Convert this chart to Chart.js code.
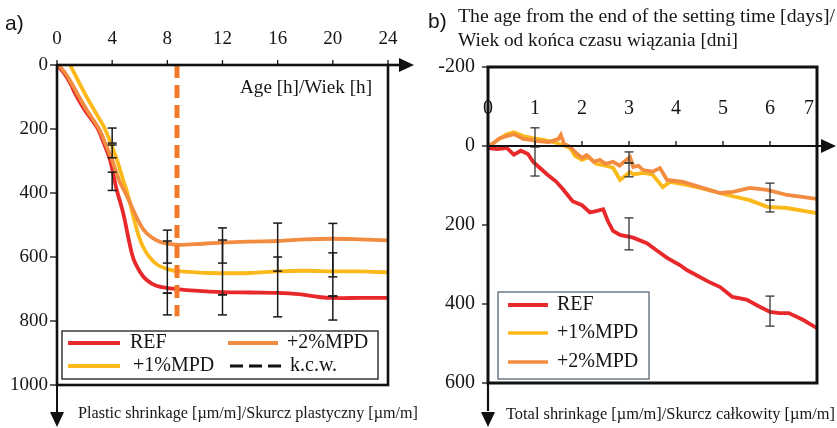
<!DOCTYPE html>
<html><head><meta charset="utf-8">
<script src="https://cdn.jsdelivr.net/npm/chart.js@4.4.0/dist/chart.umd.min.js"></script>
<style>
html,body{margin:0;padding:0;background:#fff;width:837px;height:428px;overflow:hidden}
#wrapA{position:absolute;left:0;top:0;width:420px;height:428px}
#wrapB{position:absolute;left:420px;top:0;width:417px;height:428px}
canvas{display:block}
</style></head><body>
<div id="wrapA"><canvas id="cA" width="420" height="428"></canvas></div>
<div id="wrapB"><canvas id="cB" width="417" height="428"></canvas></div>
<script>
// ---------- Panel a) plastic shrinkage ----------
const hourTicks = [0, 4, 8, 12, 16, 20, 24];
const plasticTicks = [0, 200, 400, 600, 800, 1000];
const refHours = [0, 0.5, 1, 1.3, 2, 2.9, 3.4, 3.85, 4.3, 4.8, 5.5, 6, 6.5, 7.2, 8, 10, 12, 14, 16, 17.5, 19, 20, 22, 24];
const refPlastic = [0, 25, 60, 88, 140, 195, 245, 297, 385, 463, 600, 645, 672, 690, 697, 705, 710, 711, 712, 716, 725, 728, 728, 728];
const mpd2Hours = [0.1, 0.6, 1.1, 1.45, 2.15, 3.05, 3.55, 4.0, 4.5, 5.1, 5.7, 6.3, 6.9, 7.5, 8, 9, 10, 12, 14, 16, 18, 20, 22, 24];
const mpd2Plastic = [0, 25, 60, 88, 140, 200, 250, 297, 360, 412, 470, 516, 540, 553, 558, 562, 560, 555, 552, 550, 545, 543, 545, 548];
const mpd1Hours = [0.95, 2, 2.75, 3.48, 4.35, 4.8, 5.1, 5.8, 6.2, 6.7, 7.3, 8.2, 9, 11, 14, 16, 18, 20, 22, 24];
const mpd1Plastic = [0, 88, 145, 200, 297, 360, 400, 516, 565, 600, 625, 640, 645, 650, 650, 645, 643, 645, 645, 648];
const kcwHours = [8.7, 8.7];
const kcwPlastic = [0, 785];
const errAHours = [4, 4, 4, 8, 8, 8, 12, 12, 12, 16, 16, 20, 20, 20];
const errALow = [197, 250, 335, 516, 550, 713, 509, 547, 718, 494, 600, 495, 587, 722];
const errAHigh = [244, 290, 392, 619, 713, 781, 619, 718, 781, 644, 787, 662, 722, 797];

// ---------- Panel b) total shrinkage ----------
const dayTicks = [0, 1, 2, 3, 4, 5, 6, 7];
const totalTicks = [-200, 0, 200, 400, 600];
const refDays = [0, 0.2, 0.4, 0.55, 0.7, 0.85, 0.96, 1.1, 1.26, 1.45, 1.6, 1.8, 2.0, 2.17, 2.3, 2.45, 2.55, 2.66, 2.81, 3.09, 3.38, 3.6, 3.81, 4.09, 4.23, 4.7, 4.94, 5.2, 5.5, 5.75, 6.0, 6.2, 6.4, 6.7, 7];
const refTotal = [5, 8, 5, 22, 12, 20, 40, 55, 72, 90, 110, 140, 150, 168, 165, 160, 190, 215, 225, 232, 246, 265, 283, 302, 314, 344, 357, 382, 389, 405, 420, 423, 423, 440, 461];
const mpd1Days = [0, 0.2, 0.4, 0.55, 0.75, 0.95, 1.2, 1.4, 1.6, 1.75, 1.85, 2.0, 2.15, 2.3, 2.5, 2.66, 2.81, 3.02, 3.1, 3.3, 3.5, 3.72, 3.87, 4.2, 4.51, 5.09, 5.57, 5.94, 6.36, 7];
const mpd1Total = [2, -15, -30, -35, -25, -20, -15, -10, -2, 5, 25, 35, 28, 45, 50, 55, 86, 66, 72, 68, 72, 104, 91, 98, 106, 124, 137, 154, 157, 170];
const mpd2Days = [0, 0.15, 0.25, 0.4, 0.55, 0.75, 0.95, 1.1, 1.3, 1.5, 1.55, 1.62, 1.75, 1.85, 2.0, 2.1, 2.25, 2.38, 2.5, 2.66, 2.8, 3.02, 3.09, 3.2, 3.3, 3.5, 3.66, 3.81, 4.15, 4.51, 4.94, 5.21, 5.57, 5.94, 6.36, 7];
const mpd2Total = [2, -10, -20, -25, -30, -18, -15, -12, -10, -18, -28, -5, 2, 15, 30, 23, 40, 35, 45, 40, 50, 28, 53, 50, 61, 65, 56, 86, 91, 104, 119, 116, 106, 111, 124, 134];
const errBDays = [1, 1, 3, 3, 3, 6, 6, 6];
const errBLow = [-46, 2, 15, 43, 182, 94, 137, 380];
const errBHigh = [2, 76, 43, 78, 263, 137, 167, 456];

const seriesNames = ['REF', '+1%MPD', '+2%MPD', 'k.c.w.'];

const RED = '#E8282A', ORANGE = '#F28C40', YELLOW = '#FCB91A', KCW = '#F27A2A';
const SERIF = '"Liberation Serif", "Times New Roman", serif';
const SANS = '"Liberation Sans", Arial, sans-serif';

const zip = (xs, ys) => xs.map((x, i) => ({x: x, y: ys[i]}));

function txt(ctx, s, x, y, size, align, targetW, fam) {
  ctx.save();
  ctx.font = size + 'px ' + (fam || SERIF);
  ctx.fillStyle = '#151515';
  ctx.textBaseline = 'middle';
  ctx.textAlign = align || 'left';
  const w = ctx.measureText(s).width;
  const sx = targetW ? targetW / w : 1;
  ctx.translate(x, y);
  ctx.scale(sx, 1);
  ctx.fillText(s, 0, 0);
  ctx.restore();
}
function arrow(ctx, x, y, dir) {
  ctx.save();
  ctx.fillStyle = '#111';
  ctx.beginPath();
  if (dir === 'right') { ctx.moveTo(x, y); ctx.lineTo(x - 15, y - 7); ctx.lineTo(x - 15, y + 7); }
  else { ctx.moveTo(x, y); ctx.lineTo(x - 7, y - 15); ctx.lineTo(x + 7, y - 15); }
  ctx.closePath(); ctx.fill(); ctx.restore();
}
function line(ctx, x1, y1, x2, y2, w, c, dash) {
  ctx.save(); ctx.strokeStyle = c || '#111'; ctx.lineWidth = w; ctx.setLineDash(dash || []);
  ctx.beginPath(); ctx.moveTo(x1, y1); ctx.lineTo(x2, y2); ctx.stroke(); ctx.restore();
}
function errBars(ctx, xs, ys, X, lo, hi, color, w) {
  for (let i = 0; i < X.length; i++) {
    const px = xs.getPixelForValue(X[i]);
    const a = ys.getPixelForValue(lo[i]), b = ys.getPixelForValue(hi[i]);
    line(ctx, px, a, px, b, w, color);
    line(ctx, px - 4.5, a, px + 4.5, a, w, color);
    line(ctx, px - 4.5, b, px + 4.5, b, w, color);
  }
}

const panelA = {
  id: 'panelA',
  afterDatasetsDraw(chart) {
    const ctx = chart.ctx, xs = chart.scales.x, ys = chart.scales.y;
    const L = xs.getPixelForValue(0), R = xs.getPixelForValue(24);
    const T = ys.getPixelForValue(0), B = ys.getPixelForValue(1000);
    errBars(ctx, xs, ys, errAHours, errALow, errAHigh, '#1a1a1a', 1.5);
    ctx.save(); ctx.strokeStyle = '#111'; ctx.lineWidth = 2.6; ctx.strokeRect(L, T, R - L, B - T); ctx.restore();
    line(ctx, R, T, R + 12, T, 2.6);
    arrow(ctx, R + 26, T, 'right');
    line(ctx, L, B, L, B + 28, 2);
    arrow(ctx, L, B + 42, 'down');
    hourTicks.forEach(h => {
      const px = xs.getPixelForValue(h);
      line(ctx, px, T, px, T - 5, 1.3);
      txt(ctx, String(h), px, T - 26, 19, 'center');
    });
    plasticTicks.forEach(v => {
      const py = ys.getPixelForValue(v);
      line(ctx, L - 7, py, L, py, 1.3);
      txt(ctx, String(v), L - 9, py, 19, 'right');
    });
    txt(ctx, 'Age [h]/Wiek [h]', 240, 88, 19, 'left', 132);
    txt(ctx, 'a)', 5, 24, 21, 'left', null, SANS);
    txt(ctx, 'Plastic shrinkage [\u00b5m/m]/Skurcz plastyczny [\u00b5m/m]', 78, 414, 16, 'left', 340);
    // legend
    ctx.save(); ctx.fillStyle = '#fff'; ctx.fillRect(62, 331, 316, 48);
    ctx.strokeStyle = '#2a2a2a'; ctx.lineWidth = 1.4; ctx.strokeRect(62, 331, 316, 48); ctx.restore();
    line(ctx, 68, 343, 120, 343, 4, RED);
    txt(ctx, seriesNames[0], 130, 343, 20, 'left');
    line(ctx, 228, 343, 278, 343, 4, ORANGE);
    txt(ctx, seriesNames[2], 287, 343, 20, 'left');
    line(ctx, 68, 366, 120, 366, 4, YELLOW);
    txt(ctx, seriesNames[1], 133, 366, 20, 'left');
    line(ctx, 230, 366, 281, 366, 3, '#111', [13, 6]);
    txt(ctx, seriesNames[3], 290, 366, 20, 'left');
  }
};

const panelB = {
  id: 'panelB',
  afterDatasetsDraw(chart) {
    const ctx = chart.ctx, xs = chart.scales.x, ys = chart.scales.y;
    const L = xs.getPixelForValue(0), R = xs.getPixelForValue(7);
    const T = ys.getPixelForValue(-200), B = ys.getPixelForValue(600);
    const Y0 = ys.getPixelForValue(0);
    errBars(ctx, xs, ys, errBDays, errBLow, errBHigh, '#333', 1.3);
    ctx.save(); ctx.strokeStyle = '#111'; ctx.lineWidth = 3; ctx.strokeRect(L, T, R - L, B - T); ctx.restore();
    line(ctx, L, Y0, R + 8, Y0, 2.2);
    arrow(ctx, R + 19, Y0, 'right');
    line(ctx, L, B, L, B + 28, 2.2);
    arrow(ctx, L, B + 44, 'down');
    dayTicks.forEach(d => {
      const px = xs.getPixelForValue(d);
      if (d > 0 && d < 7) line(ctx, px, Y0, px, Y0 - 5, 1.3);
      txt(ctx, String(d), d === 7 ? px - 8 : px, 109, 20, 'center');
    });
    totalTicks.forEach(v => {
      const py = ys.getPixelForValue(v);
      line(ctx, L - 6, py, L, py, 1.3);
      txt(ctx, String(v), L - 13, py, 20, 'right');
    });
    txt(ctx, 'b)', 8, 22, 21, 'left', null, SANS);
    txt(ctx, 'The age from the end of the setting time [days]/', 38, 17, 19, 'left', 377);
    txt(ctx, 'Wiek od ko\u0144ca czasu wi\u0105zania [dni]', 38, 41, 19, 'left', 280);
    txt(ctx, 'Total shrinkage [\u00b5m/m]/Skurcz ca\u0142kowity [\u00b5m/m]', 86, 415, 16, 'left', 329);
    // legend
    ctx.save(); ctx.fillStyle = '#fff'; ctx.fillRect(78, 292, 151, 87);
    ctx.strokeStyle = '#4a5866'; ctx.lineWidth = 1.2; ctx.strokeRect(78, 292, 151, 87); ctx.restore();
    line(ctx, 88, 305, 128, 305, 4, RED);
    txt(ctx, seriesNames[0], 137, 305, 20, 'left');
    line(ctx, 88, 333, 128, 333, 3.5, YELLOW);
    txt(ctx, seriesNames[1], 137, 333, 20, 'left');
    line(ctx, 88, 362, 128, 362, 3.5, ORANGE);
    txt(ctx, seriesNames[2], 137, 362, 20, 'left');
  }
};

const lineDs = (label, data, color, w, tension) => ({
  label: label, data: data, borderColor: color, backgroundColor: color,
  borderWidth: w, pointRadius: 0, tension: tension, fill: false
});

new Chart(document.getElementById('cA'), {
  type: 'line',
  data: { datasets: [
    Object.assign(lineDs(seriesNames[3], zip(kcwHours, kcwPlastic), KCW, 5, 0), { borderDash: [13, 7] }),
    lineDs(seriesNames[2], zip(mpd2Hours, mpd2Plastic), ORANGE, 3.8, 0.35),
    lineDs(seriesNames[0], zip(refHours, refPlastic), RED, 3.8, 0.35),
    lineDs(seriesNames[1], zip(mpd1Hours, mpd1Plastic), YELLOW, 3.8, 0.35)
  ]},
  options: {
    responsive: false, devicePixelRatio: 1, animation: false,
    layout: { padding: { left: 57, right: 32, top: 65, bottom: 43 } },
    scales: {
      x: { type: 'linear', min: 0, max: 24, display: false },
      y: { type: 'linear', min: 0, max: 1000, reverse: true, display: false }
    },
    plugins: { legend: { display: false }, tooltip: { enabled: false } }
  },
  plugins: [panelA]
});

new Chart(document.getElementById('cB'), {
  type: 'line',
  data: { datasets: [
    lineDs(seriesNames[0], zip(refDays, refTotal), RED, 3.8, 0),
    lineDs(seriesNames[2], zip(mpd2Days, mpd2Total), ORANGE, 3.8, 0),
    lineDs(seriesNames[1], zip(mpd1Days, mpd1Total), YELLOW, 3.8, 0)
  ]},
  options: {
    responsive: false, devicePixelRatio: 1, animation: false,
    layout: { padding: { left: 68, right: 20, top: 67, bottom: 45 } },
    scales: {
      x: { type: 'linear', min: 0, max: 7, display: false },
      y: { type: 'linear', min: -200, max: 600, reverse: true, display: false }
    },
    plugins: { legend: { display: false }, tooltip: { enabled: false } }
  },
  plugins: [panelB]
});
</script>
</body></html>
